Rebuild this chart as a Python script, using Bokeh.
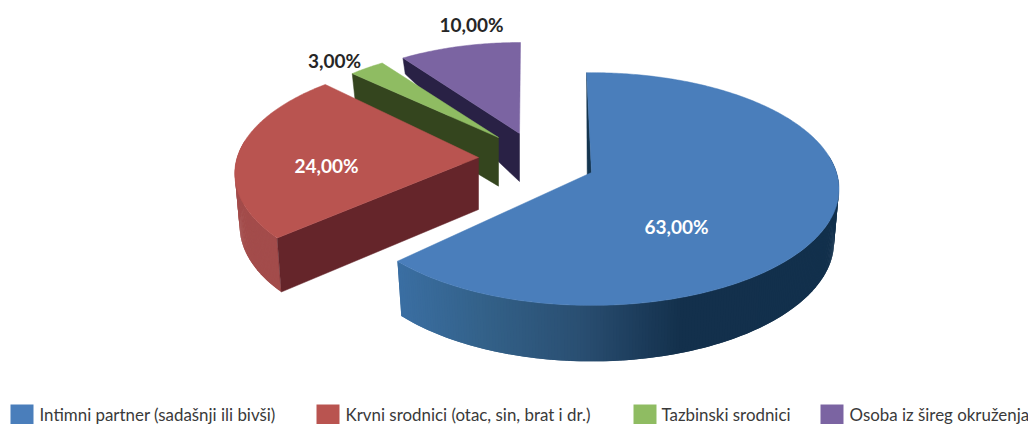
import numpy as np
from bokeh.plotting import figure
from bokeh.models import Range1d
from bokeh.core.properties import value
from bokeh.embed import file_html
from bokeh.resources import INLINE

categories = ["Intimni partner (sadašnji ili bivši)", "Krvni srodnici (otac, sin, brat i dr.)",
              "Tazbinski srodnici", "Osoba iz šireg okruženja"]
shares = [63.0, 24.0, 3.0, 10.0]
top_colors = ["#4A7EBB", "#B95450", "#8FBC62", "#7B64A2"]
side_colors = ["#14354F", "#65252A", "#34451E", "#292145"]
wall_colors = ["#3B6FA3", "#A34C4B", "#5F7F40", "#52436F"]

# view geometry of the exploded slices (page pixels)
apex_x = [591, 478, 498, 519]
apex_y = [172, 157, 137, 133]
radius = [1.0, 0.985, 0.89, 0.9]
rotate = [-1.3, 2.5, 0.0, 0.3]
A, B, K = 245.0, 114.0, 0.142
SHRINK = 0.98
depth_y = [59, 73, 133, 157, 238, 305]
depth_v = [16, 27, 48, 52, 54, 56]
grad_x = [397, 480, 580, 680, 840]
grad_c = [(0x3B, 0x6F, 0xA3), (0x34, 0x62, 0x8A), (0x2A, 0x4F, 0x72), (0x14, 0x31, 0x4D), (0x12, 0x30, 0x4C)]
label_x = [676, 326, 334, 471]
label_y = [226, 165, 60, 24]
label_c = ["#FFFFFF", "#FFFFFF", "#262626", "#262626"]
legend_box_x = [10, 316, 633, 820]
legend_text_x = [39, 345, 661, 849]

W, H = 1028, 424
p = figure(width=W, height=H, output_backend="svg", toolbar_location=None,
           x_range=Range1d(0, W), y_range=Range1d(H, 0), min_border=0,
           outline_line_color=None, background_fill_color="white", border_fill_color="white")
p.axis.visible = False
p.grid.visible = False


def ring(theta_deg, i):
    t = np.radians(theta_deg + rotate[i])
    u, v = radius[i] * np.sin(t), radius[i] * np.cos(t)
    d = 1 + K * v
    return apex_x[i] + A * u / d, apex_y[i] - B * v / d


def lower(x, y, i):
    dep = np.interp(y, depth_y, depth_v)
    return apex_x[i] + (x - apex_x[i]) * SHRINK, y + dep


def wall_color(i, x):
    if i != 0:
        return wall_colors[i]
    c = [int(np.interp(x, grad_x, [g[k] for g in grad_c])) for k in range(3)]
    return "#%02X%02X%02X" % tuple(c)


edges = np.concatenate([[0], np.cumsum(shares)]) / sum(shares) * 360

for i in [3, 2, 1, 0]:
    start, end = edges[i], edges[i + 1]
    th = np.linspace(start, end, int(max(end - start, 4) * 1.5) + 2)
    x, y = ring(th, i)
    xb, yb = lower(x, y, i)
    # outer wall, only the part facing the viewer; quads overlap to avoid seams
    xs, ys, cs = [], [], []
    for j in range(len(th) - 1):
        mid = (th[j] + th[j + 1]) / 2 + rotate[i]
        if np.cos(np.radians(mid)) > 0.15:
            continue
        k = min(j + 2, len(th) - 1)
        xs.append([x[j], x[k], xb[k], xb[j]])
        ys.append([y[j], y[k], yb[k], yb[j]])
        cs.append(wall_color(i, (x[j] + x[j + 1]) / 2))
    if xs:
        p.patches(xs, ys, fill_color=cs, line_color=None)
    # radial side at the slice's start
    ax_low = apex_x[i] - (4 if i == 0 else 0)
    ay_low = apex_y[i] + np.interp(apex_y[i], depth_y, depth_v)
    p.patch([x[0], apex_x[i], ax_low, xb[0]], [y[0], apex_y[i], ay_low, yb[0]],
            fill_color=side_colors[i], line_color=side_colors[i], line_width=0.5)
    # top face
    p.patch(np.r_[apex_x[i], x], np.r_[apex_y[i], y],
            fill_color=top_colors[i], line_color=top_colors[i], line_width=0.5)

for i, s in enumerate(shares):
    txt = f"{s:.2f}".replace(".", ",") + "%"
    p.text([label_x[i]], [label_y[i]], text=[txt], text_font=value("Lato"), text_font_style="bold",
           text_font_size="19px", text_color=label_c[i], text_align="center", text_baseline="middle")

for i, c in enumerate(categories):
    p.quad(left=[legend_box_x[i]], right=[legend_box_x[i] + 23], top=[404], bottom=[424],
           fill_color=top_colors[i], line_color=None)
    p.text([legend_text_x[i]], [414], text=[c], text_font=value("Lato"), text_font_size="16.9px",
           text_color="#3A3A3A", text_align="left", text_baseline="middle")

open("out.html", "w").write(file_html(p, INLINE))
